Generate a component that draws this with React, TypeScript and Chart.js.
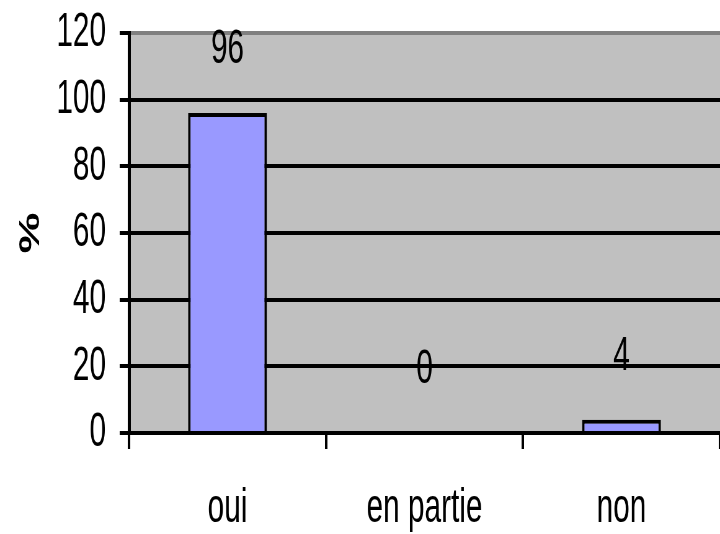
import React, { useEffect, useRef } from "react";
import { Chart, registerables } from "chart.js";

Chart.register(...registerables);

const categories = ["oui", "en partie", "non"];
const values = [96, 0, 4];
const yMin = 0;
const yMax = 120;
const yStep = 20;
const yTitle = "%";

// The reference is horizontally squeezed; draw wide and display narrow.
const SQUEEZE = 0.62;
const DISPLAY_W = 720;
const DISPLAY_H = 534;
const INTERNAL_W = Math.round(DISPLAY_W / SQUEEZE);

const FONT = "'Liberation Sans', Arial, sans-serif";

const bgPlugin = {
  id: "plotBg",
  beforeDraw(chart: any) {
    const { ctx, chartArea } = chart;
    ctx.save();
    ctx.fillStyle = "#C0C0C0";
    ctx.fillRect(chartArea.left, chartArea.top, chartArea.right - chartArea.left, chartArea.bottom - chartArea.top);
    ctx.restore();
  },
};

const labelPlugin = {
  id: "valueLabels",
  afterDatasetsDraw(chart: any) {
    const { ctx } = chart;
    const meta = chart.getDatasetMeta(0);
    const data = chart.data.datasets[0].data;
    ctx.save();
    ctx.font = `48px ${FONT}`;
    ctx.fillStyle = "#000";
    ctx.textAlign = "center";
    ctx.textBaseline = "middle";
    meta.data.forEach((el: any, i: number) => {
      ctx.fillText(String(data[i]), el.x, el.y - 63);
    });
    ctx.restore();
  },
};

export default function App() {
  const ref = useRef<HTMLCanvasElement | null>(null);

  useEffect(() => {
    if (!ref.current) return;
    const chart = new Chart(ref.current, {
      type: "bar",
      data: {
        labels: categories,
        datasets: [
          {
            data: values,
            backgroundColor: "#9999FF",
            borderColor: "#000000",
            borderWidth: 4,
            categoryPercentage: 1,
            barPercentage: 0.4,
          },
        ],
      },
      options: {
        responsive: false,
        animation: false,
        devicePixelRatio: 1,
        layout: { padding: { top: 33, left: 0, right: 0, bottom: 0 } },
        plugins: {
          legend: { display: false },
          tooltip: { enabled: false },
        },
        scales: {
          x: {
            offset: true,
            grid: {
              offset: true,
              drawOnChartArea: false,
              drawTicks: true,
              tickLength: 16,
              color: "#000",
              lineWidth: 4,
            },
            border: { display: true, color: "#000", width: 4 },
            ticks: {
              color: "#000",
              padding: 31,
              maxRotation: 0,
              font: { family: FONT, size: 48 },
            },
            afterFit(scale: any) {
              scale.height = DISPLAY_H - 433;
              scale.paddingLeft = 0;
              scale.paddingRight = 0;
            },
          },
          y: {
            min: yMin,
            max: yMax,
            ticks: {
              stepSize: yStep,
              color: "#000",
              padding: 22,
              font: { family: FONT, size: 48 },
            },
            grid: {
              color: (c: any) => (c.tick && c.tick.value === yMax ? "#808080" : "#000"),
              tickColor: "#000",
              lineWidth: 4,
              tickLength: 15,
              drawTicks: true,
            },
            border: { display: true, color: "#000", width: 5 },
            title: {
              display: true,
              text: yTitle,
              color: "#000",
              padding: { top: 23, bottom: 0 },
              font: { family: FONT, size: 46, weight: "bold" },
            },
            afterFit(scale: any) {
              scale.width = Math.round(129 / SQUEEZE);
              scale.paddingTop = 0;
              scale.paddingBottom = 0;
            },
          },
        },
      },
      plugins: [bgPlugin, labelPlugin],
    } as any);
    return () => chart.destroy();
  }, []);

  return (
    <div style={{ position: "absolute", left: 0, top: 0, width: DISPLAY_W, height: DISPLAY_H, overflow: "hidden" }}>
      <canvas
        ref={ref}
        width={INTERNAL_W}
        height={DISPLAY_H}
        style={{ width: DISPLAY_W + "px", height: DISPLAY_H + "px", display: "block" }}
      />
    </div>
  );
}
